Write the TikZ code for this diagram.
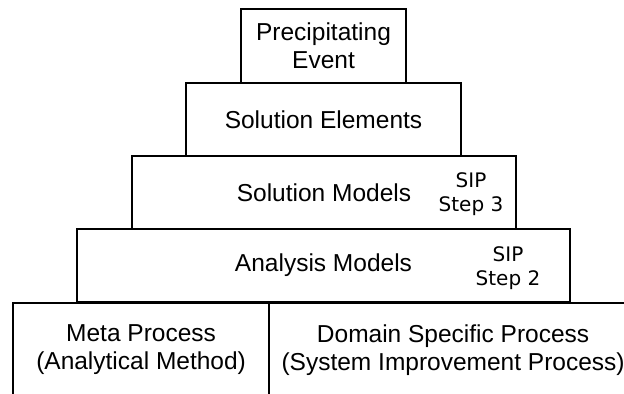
\documentclass[tikz,border=0pt]{standalone}
\usepackage{fontspec}
\setmainfont{Liberation Sans}
\newfontfamily\sipfont{DejaVu Sans}
\begin{document}
\begin{tikzpicture}[x=1bp,y=-1bp,
  box/.style={draw, line width=2.2bp, rectangle, inner sep=0pt, align=center,
    font=\fontsize{24.5bp}{28bp}\selectfont},
  sip/.style={align=center, inner sep=0pt, font=\sipfont\fontsize{20bp}{24bp}\selectfont}]
\useasboundingbox (0,0) rectangle (624,393);
\clip (0,0) rectangle (624,393);
\node[box, minimum width=165bp, minimum height=74bp] (pe) at (323.5,46) {Precipitating\\Event};
\node[box, minimum width=275bp, minimum height=73bp] (se) at (323.5,119.5) {Solution Elements};
\node[box, minimum width=384bp, minimum height=73bp] (sm) at (324,192.5) {Solution Models};
\node[box, minimum width=493bp, minimum height=73bp] (am) at (323.5,265.5) {Analysis Models};
\node[box, minimum width=256bp, minimum height=94bp, anchor=north west] (meta) at (12,302) {Meta Process\\(Analytical Method)};
\node[box, minimum width=368bp, minimum height=94bp, anchor=north west] (dsp) at (268,302) {Domain Specific Process\\(System Improvement Process)};
\node[sip] (sip3) at (471,194) {SIP\\Step 3};
\node[sip] (sip2) at (508,268) {SIP\\Step 2};
\end{tikzpicture}
\end{document}
